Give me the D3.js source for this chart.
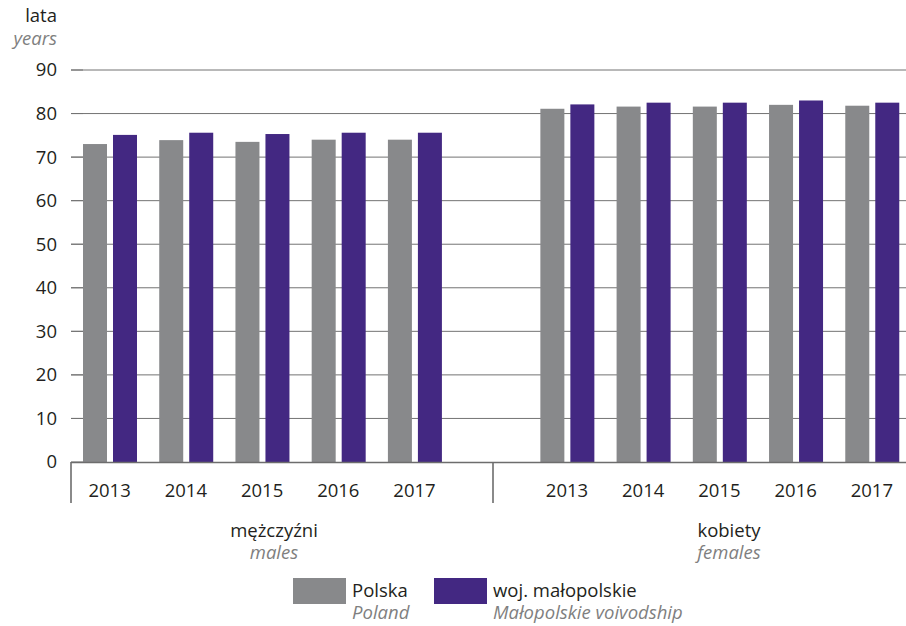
<!DOCTYPE html>
<html><head><meta charset="utf-8">
<script src="https://cdn.jsdelivr.net/npm/d3@7"></script>
<style>body{margin:0;background:#fff}svg{display:block}text{font-family:"Open Sans","Noto Sans",sans-serif}</style>
</head><body><svg id="c" width="906" height="626"></svg>
<script>
const years = ["2013","2014","2015","2016","2017"];
const groups = [{key:"m", pl:"mężczyźni", en:"males"},{key:"f", pl:"kobiety", en:"females"}];
const series = [{key:"pl", pl:"Polska", en:"Poland"},{key:"mp", pl:"woj. małopolskie", en:"Małopolskie voivodship"}];
const malesPoland = [73.0, 73.9, 73.5, 74.0, 74.0];
const malesMalopolskie = [75.1, 75.6, 75.3, 75.6, 75.6];
const femalesPoland = [81.1, 81.6, 81.6, 82.0, 81.8];
const femalesMalopolskie = [82.1, 82.5, 82.5, 83.0, 82.5];
const yTicks = [0,10,20,30,40,50,60,70,80,90];
const colors = {pl:"#88898b", mp:"#432882"};

const data = [];
years.forEach((y,i)=>{
  data.push({g:"m", year:y, pl:malesPoland[i], mp:malesMalopolskie[i]});
});
years.forEach((y,i)=>{
  data.push({g:"f", year:y, pl:femalesPoland[i], mp:femalesMalopolskie[i]});
});
const slots = [...years.map(y=>"m-"+y), "gap", ...years.map(y=>"f-"+y)];

const FS = 18.5;
const svg = d3.select("#c");
const x = d3.scaleBand().domain(slots).range([72, 910.5]).padding(0);
const xs = d3.scaleBand().domain(series.map(s=>s.key)).range([11, 65]).paddingInner(0.2).paddingOuter(0);
const y = d3.scaleLinear().domain([0, 90]).range([462, 70]);

// gridlines
svg.append("g").selectAll("line").data(yTicks.filter(t=>t>0)).join("line")
  .attr("x1", 71).attr("x2", 906).attr("y1", d=>y(d)).attr("y2", d=>y(d))
  .attr("stroke", "#737373").attr("stroke-width", 1);
svg.append("g").selectAll("line").data(yTicks).join("line")
  .attr("x1", 71).attr("x2", 83).attr("y1", d=>y(d)).attr("y2", d=>y(d))
  .attr("stroke", "#737373").attr("stroke-width", 1);

// tick labels
svg.append("g").selectAll("text").data(yTicks).join("text")
  .attr("x", 57).attr("y", d=>y(d)).attr("dy", "0.35em").attr("text-anchor", "end")
  .attr("font-size", FS).attr("fill", "#231f20").text(d=>d);

// bars
const gBars = svg.append("g");
data.forEach(d=>{
  const x0 = x(d.g+"-"+d.year);
  series.forEach(s=>{
    gBars.append("rect")
      .attr("x", x0 + xs(s.key)).attr("width", xs.bandwidth())
      .attr("y", y(d[s.key])).attr("height", y(0) - y(d[s.key]))
      .attr("fill", colors[s.key]);
  });
});

// axis
svg.append("line").attr("x1", 71).attr("x2", 906).attr("y1", y(0)+0.5).attr("y2", y(0)+0.5)
  .attr("stroke", "#6d6d6d").attr("stroke-width", 1.6);
const sepX = [71, 493];
svg.append("g").selectAll("line").data(sepX).join("line")
  .attr("x1", d=>d).attr("x2", d=>d).attr("y1", y(0)).attr("y2", 503)
  .attr("stroke", "#6d6d6d").attr("stroke-width", 1.6);

// year labels
svg.append("g").selectAll("text").data(data).join("text")
  .attr("x", d=>x(d.g+"-"+d.year) + x.bandwidth()/2 - 0.5).attr("y", 497)
  .attr("text-anchor", "middle").attr("font-size", FS).attr("fill", "#231f20").text(d=>d.year);

// group labels
const groupCenters = {m: 274, f: 729};
groups.forEach(g=>{
  svg.append("text").attr("x", groupCenters[g.key]).attr("y", 537).attr("text-anchor","middle")
    .attr("font-size", FS).attr("fill", "#231f20").text(g.pl);
  svg.append("text").attr("x", groupCenters[g.key]).attr("y", 559).attr("text-anchor","middle")
    .attr("font-size", FS).attr("font-style","italic").attr("fill", "#7f7f80").text(g.en);
});

// y title
svg.append("text").attr("x", 57).attr("y", 22).attr("text-anchor","end").attr("font-size",FS).attr("fill","#231f20").text("lata");
svg.append("text").attr("x", 57).attr("y", 45).attr("text-anchor","end").attr("font-size",FS).attr("font-style","italic").attr("fill","#7f7f80").text("years");

// legend
const legX = [293, 434];
series.forEach((s,i)=>{
  svg.append("rect").attr("x", legX[i]).attr("y", 578).attr("width", 53).attr("height", 26).attr("fill", colors[s.key]);
  svg.append("text").attr("x", legX[i]+59).attr("y", 597).attr("font-size",FS).attr("fill","#231f20").text(s.pl);
  svg.append("text").attr("x", legX[i]+59).attr("y", 619).attr("font-size",FS).attr("font-style","italic").attr("fill","#7f7f80").text(s.en);
});
</script></body></html>
